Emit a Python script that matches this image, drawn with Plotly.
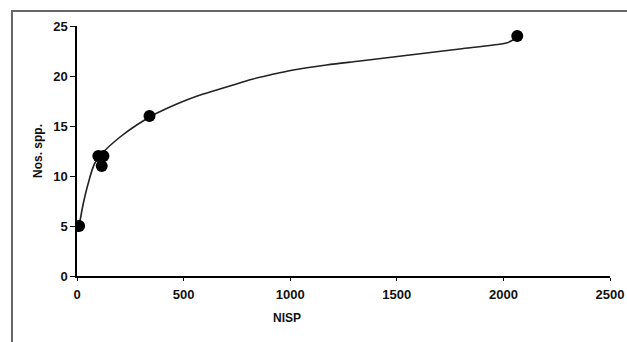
import plotly.graph_objects as go

# Observed data points (NISP vs number of species)
nisp = [10, 100, 124, 116, 340, 2065]
nos_spp = [5, 12, 12, 11, 16, 24]

# Trend curve
curve_x = [11, 30, 53, 84, 124, 202, 280, 358, 436, 514, 592, 670, 748, 826, 905,
           1014, 1170, 1327, 1483, 1639, 1795, 1952, 2014, 2061]
curve_y = [5.1, 7.3, 9.3, 11.3, 12.4, 13.9, 15.1, 16.1, 16.9, 17.6, 18.2, 18.7, 19.2, 19.7, 20.1,
           20.6, 21.1, 21.5, 21.9, 22.3, 22.7, 23.1, 23.3, 23.8]

x_ticks = [0, 500, 1000, 1500, 2000, 2500]
y_ticks = [0, 5, 10, 15, 20, 25]

fig = go.Figure()
fig.add_trace(go.Scatter(x=curve_x, y=curve_y, mode="lines",
                         line=dict(color="#222222", width=1.6, shape="spline"),
                         hoverinfo="skip", showlegend=False))
fig.add_trace(go.Scatter(x=nisp, y=nos_spp, mode="markers",
                         marker=dict(color="black", size=12),
                         showlegend=False))

tickfont = dict(family="Liberation Sans, Arial", size=13, color="#111111", weight="bold")
titlefont = dict(family="Liberation Sans, Arial", size=12, color="#111111", weight="bold")

fig.update_layout(
    width=627, height=342,
    margin=dict(l=77, r=17, t=26, b=66),
    paper_bgcolor="white", plot_bgcolor="white",
    xaxis=dict(range=[0, 2500], tickvals=x_ticks, ticktext=[str(v) for v in x_ticks],
               showgrid=False, zeroline=False, showline=True, linecolor="black", linewidth=1.5,
               ticks="outside", ticklen=3, tickwidth=1, tickcolor="black",
               tickfont=tickfont, automargin=False, ticklabelstandoff=3),
    yaxis=dict(range=[0, 25], tickvals=y_ticks, ticktext=[str(v) for v in y_ticks],
               showgrid=False, zeroline=False, showline=True, linecolor="black", linewidth=1.5,
               ticks="outside", ticklen=5, tickwidth=1, tickcolor="black",
               tickfont=tickfont, automargin=False),
    shapes=[dict(type="rect", xref="paper", yref="paper",
                 x0=-0.122, x1=1.2, y0=-0.4, y1=1.06,
                 line=dict(color="#666666", width=2), layer="below")],
    annotations=[
        dict(text="NISP", xref="paper", yref="paper", x=(287 - 77) / 533, y=(276 - 318) / 250,
             showarrow=False, xanchor="center", yanchor="middle", font=titlefont),
        dict(text="Nos. spp.", xref="paper", yref="paper", x=(38 - 77) / 533, y=(276 - 151) / 250,
             showarrow=False, xanchor="center", yanchor="middle", textangle=-90, font=titlefont),
    ],
)

fig.write_html("out.html", config={"displayModeBar": False},
               post_script="document.body.style.margin='0';document.body.style.overflow='hidden';")
